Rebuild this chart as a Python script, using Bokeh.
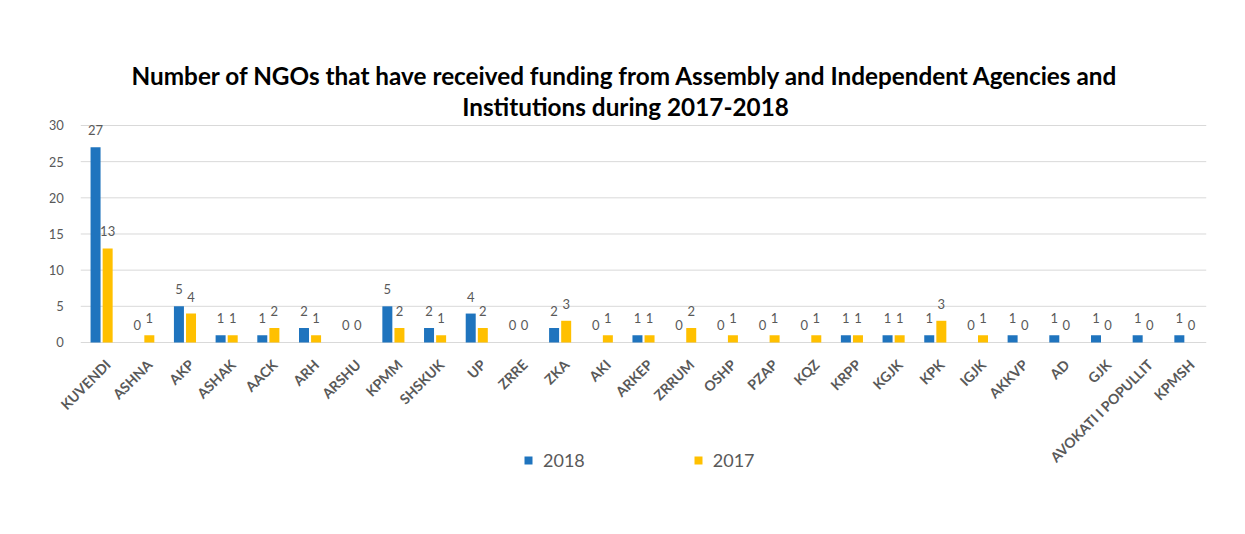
from bokeh.plotting import figure
from bokeh.models import ColumnDataSource, LabelSet, Legend, LegendItem, FactorRange
from bokeh.transform import dodge
from bokeh.core.properties import value
from bokeh.embed import file_html
from bokeh.resources import INLINE
import math

categories = ["KUVENDI", "ASHNA", "AKP", "ASHAK", "AACK", "ARH", "ARSHU", "KPMM", "SHSKUK", "UP",
              "ZRRE", "ZKA", "AKI", "ARKEP", "ZRRUM", "OSHP", "PZAP", "KQZ", "KRPP", "KGJK",
              "KPK", "IGJK", "AKKVP", "AD", "GJK", "AVOKATI I POPULLIT", "KPMSH"]
v2018 = [27, 0, 5, 1, 1, 2, 0, 5, 2, 4, 0, 2, 0, 1, 0, 0, 0, 0, 1, 1, 1, 0, 1, 1, 1, 1, 1]
v2017 = [13, 1, 4, 1, 2, 1, 0, 2, 1, 2, 0, 3, 1, 1, 2, 1, 1, 1, 1, 1, 3, 1, 0, 0, 0, 0, 0]
series_names = ["2018", "2017"]
y_ticks = [0, 5, 10, 15, 20, 25, 30]
title_lines = ["Number of NGOs that have received funding from Assembly and Independent Agencies and",
               "Institutions during 2017-2018"]

BLUE = "#1F74BE"
YELLOW = "#FFC000"
GRAY = "#595959"
FONT = "Lato"

src = ColumnDataSource(dict(cat=categories, a=v2018, b=v2017,
                            la=[str(v) for v in v2018], lb=[str(v) for v in v2017]))
grid_src = ColumnDataSource(dict(c0=[categories[0]] * len(y_ticks), c1=[categories[-1]] * len(y_ticks),
                                 y=y_ticks, t=[str(t) for t in y_ticks]))
mid_cat = categories[len(categories) // 2]
title_src = ColumnDataSource(dict(c=[mid_cat, mid_cat], y=[36.9, 32.65], t=title_lines))

# the frame fills the whole canvas; the category area is a region inside it so the
# title, rotated category labels, value labels and legend all sit inside the frame
xr = FactorRange(*categories, range_padding=0.75, range_padding_units="absolute")
p = figure(x_range=xr, y_range=(-25.44, 47.28), width=1237, height=526,
           output_backend="svg", toolbar_location=None,
           min_border_left=49, min_border_right=0, min_border_top=0, min_border_bottom=0)
p.outline_line_color = None
p.xaxis.visible = False
p.yaxis.visible = False
p.xgrid.grid_line_color = None
p.ygrid.grid_line_color = None

# title (two centred lines)
p.text(x=dodge("c", 0, range=p.x_range), y="y", text="t", source=title_src, x_offset=-18,
       text_align="center", text_baseline="middle",
       text_font=value(FONT), text_font_size="24.3px", text_font_style="bold", text_color="#000000")

# horizontal gridlines across the category area
p.segment(x0=dodge("c0", -0.5, range=p.x_range), x1=dodge("c1", 0.5, range=p.x_range),
          y0="y", y1="y", source=grid_src, line_color="#D9D9D9", line_width=1)
# value axis labels
p.text(x=dodge("c0", -0.5, range=p.x_range), y="y", text="t", source=grid_src, x_offset=-17,
       text_align="right", text_baseline="middle",
       text_font=value(FONT), text_font_size="13px", text_color=GRAY)

r1 = p.vbar(x=dodge("cat", -0.145, range=p.x_range), top="a", width=0.24, source=src,
            fill_color=BLUE, line_color=None)
r2 = p.vbar(x=dodge("cat", 0.145, range=p.x_range), top="b", width=0.24, source=src,
            fill_color=YELLOW, line_color=None)

for col, lab, off in (("a", "la", -0.145), ("b", "lb", 0.145)):
    ls = LabelSet(x=dodge("cat", off, range=p.x_range), y=col, text=lab, source=src,
                  text_align="center", text_baseline="bottom", y_offset=12,
                  text_font=value(FONT), text_font_size="13px", text_color=GRAY)
    p.add_layout(ls)

# category labels, rotated 45 degrees, hanging below the zero line
p.text(x=dodge("cat", 0.15, range=p.x_range), y=-2.7, text="cat", source=src,
       angle=math.pi / 4, text_align="right", text_baseline="middle",
       text_font=value(FONT), text_font_size="14px", text_font_style="bold", text_color=GRAY)

legend = Legend(items=[LegendItem(label=series_names[0], renderers=[r1]),
                       LegendItem(label=series_names[1], renderers=[r2])],
                orientation="horizontal", location=(474, 55),
                glyph_width=10, glyph_height=10, label_standoff=10, spacing=108,
                padding=0, margin=0, border_line_color=None, background_fill_alpha=0,
                label_text_font=FONT, label_text_font_size="18px", label_text_color=GRAY)
p.add_layout(legend, "center")

open("out.html", "w").write(file_html(p, INLINE))
